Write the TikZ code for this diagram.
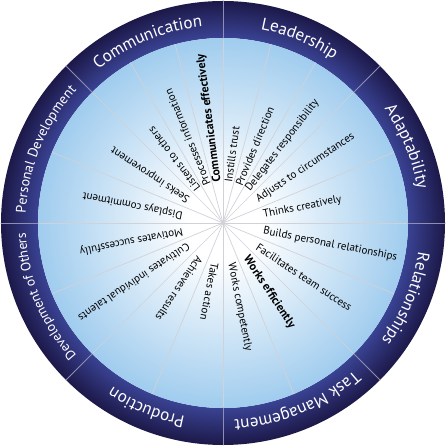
\documentclass[tikz,border=0pt]{standalone}
\usepackage{fontspec}
\setmainfont{PT Sans}
\usetikzlibrary{decorations.text}
\definecolor{ringdark}{HTML}{1C1848}
\definecolor{ringlight}{HTML}{3A4394}
\definecolor{diskblue}{HTML}{A0CCEE}
\definecolor{spokegray}{HTML}{D0D2D8}
\definecolor{cutgray}{HTML}{8E8EB4}
\pgfdeclareradialshading{ringshade}{\pgfpoint{0bp}{0bp}}{color(0bp)=(ringlight); color(20.8bp)=(ringlight); color(25bp)=(ringdark); color(50bp)=(ringdark)}
\pgfdeclareradialshading{diskshade}{\pgfpoint{0bp}{0bp}}{color(0bp)=(white); color(5bp)=(white); color(25bp)=(diskblue); color(50bp)=(diskblue)}
\newcommand\keylbl[1]{{\fontsize{11.8}{13}\selectfont\bfseries #1}}
\tikzset{
  spoke/.style={spokegray,line width=0.7pt},
  cutline/.style={cutgray,line width=0.8pt},
  lbl/.style={anchor=west,inner sep=1pt,font=\fontsize{11}{13}\selectfont},
  ringlbl/.style 2 args={decorate,decoration={text along path,text align=center,text color=white,
      text={|\fontsize{#1}{18}\selectfont|#2}}}
}
\begin{document}
\begin{tikzpicture}[x=1pt,y=1pt,line cap=round]
	\def\outerR{222}
	\def\innerR{185}
	\def\textR{197.5}
	\useasboundingbox (-223,-223) rectangle (223,223);
	% ring and disk
	\shade[shading=ringshade,even odd rule] (0,0) circle (\outerR) (0,0) circle (\innerR);
	\shade[shading=diskshade] (0,0) circle (\innerR);
	\foreach \a in {0,22.5,45,60,75,90,105,120,135,157.5,180,202.5,225,247.5,270,292.5,315,337.5}
		\draw[spoke] (0,0) -- (\a:\innerR);
	\foreach \a in {0,45,...,315}
		\draw[cutline] (\a:\innerR) -- (\a:\outerR);
	% ring labels
	\foreach \a/\s/\t in {67.5/17/Leadership,112.5/17/Communication,157.5/14/Personal Development,
		202.5/13.6/Development of Others,247.5/17/Production,292.5/17/Task Management,
		337.5/16.8/Relationships,22.5/17/Adaptability}
		\path[ringlbl={\s}{\t}] (\a+24:\textR) arc[start angle=\a+24,end angle=\a-24,radius=\textR];
	% inner labels
	\foreach \a/\t/\n in {11.25/Thinks creatively/thinks,33.75/Adjusts to circumstances/adjusts,
		52.5/Delegates responsibility/delegates,67.5/Provides direction/provides,
		82.5/Instills trust/instills,97.5/\keylbl{Communicates effectively}/communicates,
		112.5/Processes information/processes,127.5/Listens to others/listens,
		146.25/Seeks improvement/seeks,168.75/Displays commitment/displays,
		191.25/Motivates successfully/motivates,213.75/Cultivates individual talents/cultivates,
		236.25/Achieves results/achieves,258.75/Takes action/takes,
		281.25/Works competently/competently,303.75/\keylbl{Works efficiently}/efficiently,
		326.25/Facilitates team success/facilitates,348.75/Builds personal relationships/builds}
		\node[lbl,rotate=\a] (\n) at (\a:40) {\t};
\end{tikzpicture}
\end{document}
